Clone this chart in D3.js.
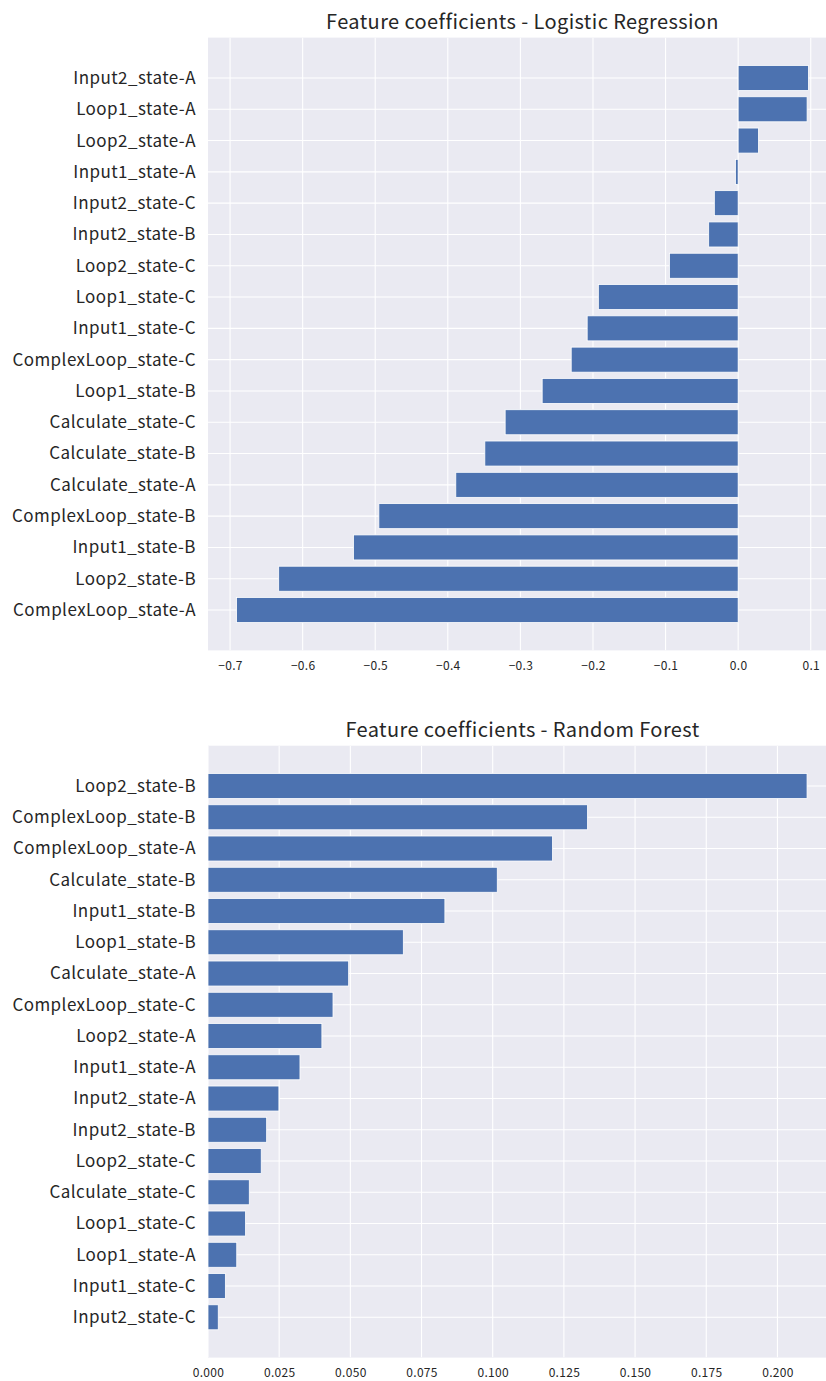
<!DOCTYPE html>
<html>
<head>
<meta charset="utf-8">
<script src="https://cdn.jsdelivr.net/npm/d3@7"></script>
<style>
  html, body { margin: 0; padding: 0; background: #ffffff; }
  svg { display: block; }
</style>
</head>
<body>
<div id="chart"></div>
<script>
// ---- Data ----
const lrFeatures = [
  "Input2_state-A", "Loop1_state-A", "Loop2_state-A", "Input1_state-A",
  "Input2_state-C", "Input2_state-B", "Loop2_state-C", "Loop1_state-C",
  "Input1_state-C", "ComplexLoop_state-C", "Loop1_state-B", "Calculate_state-C",
  "Calculate_state-B", "Calculate_state-A", "ComplexLoop_state-B", "Input1_state-B",
  "Loop2_state-B", "ComplexLoop_state-A"
];
const lrValues = [
  0.0968, 0.0950, 0.0280, -0.0037,
  -0.0328, -0.0406, -0.0947, -0.1926,
  -0.2080, -0.2300, -0.2700, -0.3210,
  -0.3490, -0.3890, -0.4950, -0.5300,
  -0.6330, -0.6910
];
const lrTicks = [-0.7, -0.6, -0.5, -0.4, -0.3, -0.2, -0.1, 0.0, 0.1];

const rfFeatures = [
  "Loop2_state-B", "ComplexLoop_state-B", "ComplexLoop_state-A", "Calculate_state-B",
  "Input1_state-B", "Loop1_state-B", "Calculate_state-A", "ComplexLoop_state-C",
  "Loop2_state-A", "Input1_state-A", "Input2_state-A", "Input2_state-B",
  "Loop2_state-C", "Calculate_state-C", "Loop1_state-C", "Loop1_state-A",
  "Input1_state-C", "Input2_state-C"
];
const rfValues = [
  0.2104, 0.1333, 0.1210, 0.1016,
  0.0832, 0.0686, 0.0494, 0.0439,
  0.0400, 0.0323, 0.0249, 0.0206,
  0.0187, 0.0145, 0.0132, 0.0101,
  0.0061, 0.0036
];
const rfTicks = [0.000, 0.025, 0.050, 0.075, 0.100, 0.125, 0.150, 0.175, 0.200];

const titles = ["Feature coefficients - Logistic Regression", "Feature coefficients - Random Forest"];

// ---- Layout ----
const W = 826, H = 1381;
const FONT = "'Noto Sans CJK JP', 'Noto Sans', sans-serif";
const BG = "#EAEAF2", BAR = "#4C72B0", TXT = "#262626";

const svg = d3.select("#chart").append("svg")
  .attr("width", W).attr("height", H)
  .attr("viewBox", `0 0 ${W} ${H}`);

function drawPanel(opts) {
  const { features, values, ticks, fmt, top, bottom, left, right, title, domain } = opts;
  const g = svg.append("g");

  const x = d3.scaleLinear().domain(domain).range([left, right]);
  const n = features.length;
  const y = d3.scaleLinear().domain([-1.29, n - 1 + 1.29]).range([top, bottom]);

  const clipId = "clip" + Math.round(top);
  svg.append("clipPath").attr("id", clipId)
    .append("rect").attr("x", left).attr("y", top).attr("width", right - left).attr("height", bottom - top);

  g.append("rect").attr("x", left).attr("y", top)
    .attr("width", right - left).attr("height", bottom - top).attr("fill", BG);

  const grid = g.append("g").attr("clip-path", `url(#${clipId})`);
  grid.selectAll("line.vx").data(ticks).enter().append("line")
    .attr("x1", d => x(d)).attr("x2", d => x(d))
    .attr("y1", top).attr("y2", bottom)
    .attr("stroke", "#ffffff").attr("stroke-width", 1.1);
  grid.selectAll("line.hy").data(features).enter().append("line")
    .attr("x1", left).attr("x2", right)
    .attr("y1", (d, i) => y(i)).attr("y2", (d, i) => y(i))
    .attr("stroke", "#ffffff").attr("stroke-width", 1.1);

  const bh = y(0.4) - y(-0.4);
  g.append("g").attr("clip-path", `url(#${clipId})`)
    .selectAll("rect").data(values).enter().append("rect")
    .attr("x", d => Math.min(x(0), x(d)))
    .attr("width", d => Math.abs(x(d) - x(0)))
    .attr("y", (d, i) => y(i) - bh / 2)
    .attr("height", bh)
    .attr("fill", BAR)
    .attr("stroke", "#ffffff").attr("stroke-width", 0.8);

  // y labels
  const yAxis = d3.axisLeft(y).tickValues(d3.range(n)).tickFormat(i => features[i]).tickSize(0).tickPadding(12);
  const ya = g.append("g").attr("transform", `translate(${left},0)`).call(yAxis);
  ya.select(".domain").remove();
  ya.selectAll("text").attr("font-family", FONT).attr("font-size", 17)
    .attr("letter-spacing", 0.45).attr("fill", TXT);

  // x ticks
  const xAxis = d3.axisBottom(x).tickValues(ticks).tickFormat(d3.format(fmt)).tickSize(0).tickPadding(11);
  const xa = g.append("g").attr("transform", `translate(0,${bottom})`).call(xAxis);
  xa.select(".domain").remove();
  xa.selectAll("text").attr("font-family", FONT).attr("font-size", 12)
    .attr("letter-spacing", 0.3).attr("fill", TXT);

  g.append("text").attr("x", (left + right) / 2).attr("y", top - 9)
    .attr("text-anchor", "middle")
    .attr("font-family", FONT).attr("font-size", 20).attr("letter-spacing", 0.4).attr("fill", TXT)
    .text(title);
}

function paddedDomain(vals) {
  const lo = d3.min(vals), hi = d3.max(vals);
  const r = hi - lo;
  return [lo - 0.05 * r, hi + 0.05 * r];
}

drawPanel({
  features: lrFeatures, values: lrValues, ticks: lrTicks, fmt: ".1f",
  top: 37.6, bottom: 650.4, left: 208, right: 837,
  title: titles[0], domain: paddedDomain(lrValues)
});
drawPanel({
  features: rfFeatures, values: rfValues, ticks: rfTicks, fmt: ".3f",
  top: 745.7, bottom: 1357.6, left: 208, right: 837,
  title: titles[1], domain: [0, d3.max(rfValues) * 1.05]
});
</script>
</body>
</html>
